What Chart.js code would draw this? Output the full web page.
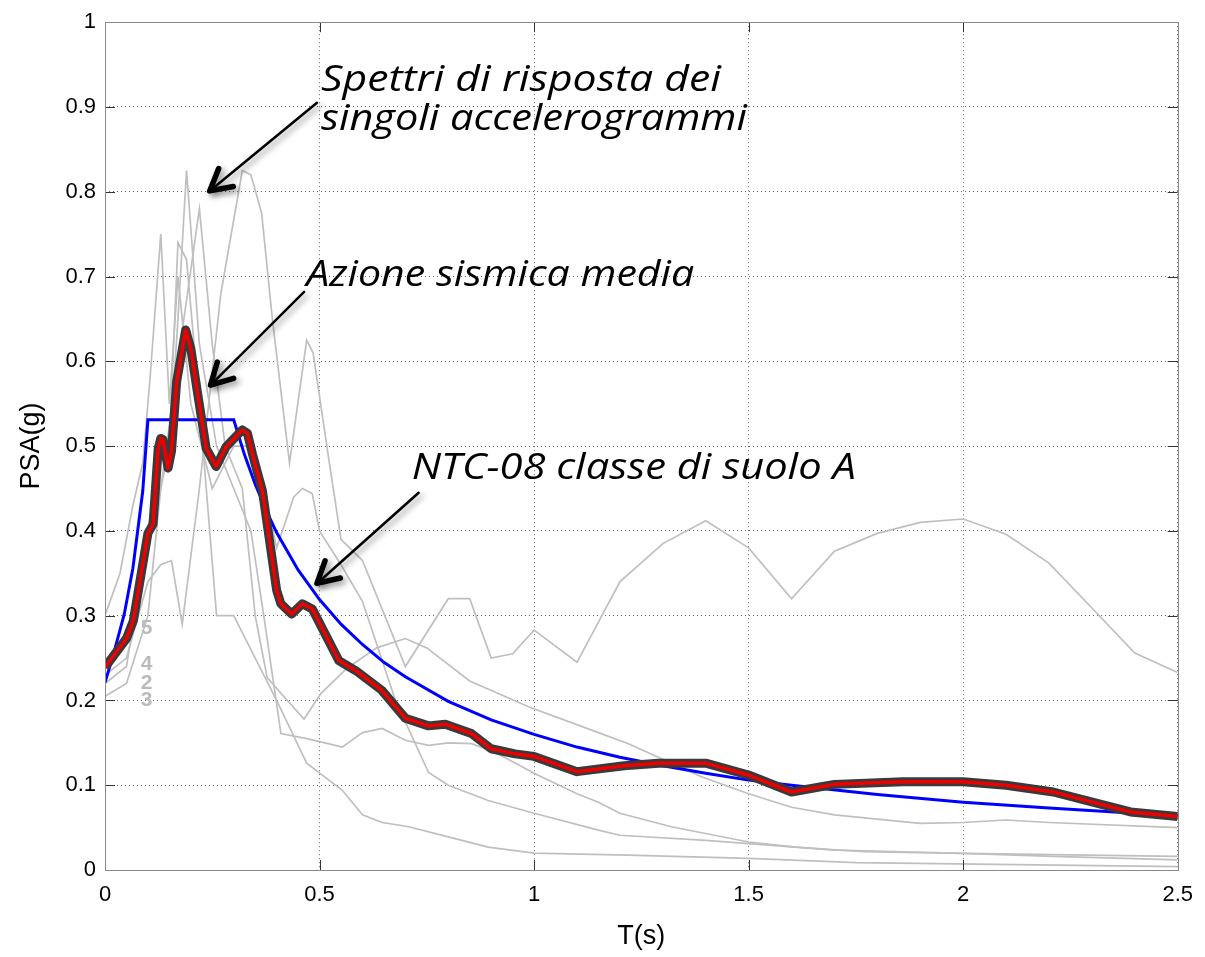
<!DOCTYPE html>
<html>
<head>
<meta charset="utf-8">
<script src="https://cdn.jsdelivr.net/npm/chart.js@4.4.0/dist/chart.umd.min.js"></script>
<style>
  html, body { margin: 0; padding: 0; background: #fff; }
</style>
</head>
<body>
<canvas id="psa" width="1205" height="957"></canvas>
<script>
// axis ticks
var xTicks = [0, 0.5, 1, 1.5, 2, 2.5];
var yTicks = [0, 0.1, 0.2, 0.3, 0.4, 0.5, 0.6, 0.7, 0.8, 0.9, 1];

// NTC-08, suolo A
var ntcT   = [0, 0.02, 0.045, 0.065, 0.088, 0.1, 0.3, 0.325, 0.35, 0.375, 0.4, 0.45, 0.5, 0.55, 0.6, 0.65, 0.7, 0.8, 0.9, 1.0, 1.1, 1.2, 1.3, 1.4, 1.5, 1.6, 1.8, 2.0, 2.2, 2.4, 2.5];
var ntcPSA = [0.221, 0.255, 0.302, 0.356, 0.447, 0.531, 0.531, 0.49, 0.455, 0.425, 0.398, 0.354, 0.319, 0.29, 0.266, 0.245, 0.228, 0.199, 0.177, 0.16, 0.145, 0.133, 0.123, 0.114, 0.106, 0.1, 0.089, 0.08, 0.073, 0.067, 0.064];

// azione sismica media
var meanT   = [0, 0.05, 0.066, 0.1, 0.112, 0.124, 0.13, 0.135, 0.147, 0.155, 0.167, 0.188, 0.2, 0.215, 0.236, 0.259, 0.282, 0.32, 0.332, 0.344, 0.367, 0.4, 0.41, 0.435, 0.46, 0.483, 0.545, 0.585, 0.645, 0.7, 0.754, 0.793, 0.854, 0.9, 0.956, 1.0, 1.1, 1.21, 1.29, 1.4, 1.5, 1.6, 1.7, 1.86, 2.0, 2.1, 2.21, 2.39, 2.5];
var meanPSA = [0.239, 0.273, 0.294, 0.397, 0.408, 0.497, 0.509, 0.508, 0.474, 0.494, 0.576, 0.637, 0.615, 0.565, 0.497, 0.476, 0.499, 0.519, 0.515, 0.49, 0.447, 0.33, 0.314, 0.302, 0.314, 0.308, 0.247, 0.235, 0.212, 0.179, 0.17, 0.172, 0.161, 0.143, 0.137, 0.134, 0.116, 0.123, 0.126, 0.126, 0.112, 0.092, 0.101, 0.104, 0.104, 0.1, 0.092, 0.0685, 0.063];

// spettri dei singoli accelerogrammi
var rec1T   = [0, 0.05, 0.1, 0.13, 0.155, 0.18, 0.22, 0.27, 0.32, 0.34, 0.365, 0.39, 0.43, 0.47, 0.485, 0.52, 0.55, 0.6, 0.7, 0.8, 0.85, 0.9, 0.95, 1.0, 1.1, 1.2, 1.3, 1.4, 1.5, 1.6, 1.7, 1.8, 1.9, 2.0, 2.1, 2.2, 2.3, 2.4, 2.5];
var rec1PSA = [0.23, 0.25, 0.34, 0.36, 0.365, 0.29, 0.45, 0.68, 0.825, 0.82, 0.775, 0.65, 0.48, 0.625, 0.61, 0.49, 0.39, 0.365, 0.24, 0.32, 0.32, 0.25, 0.255, 0.283, 0.245, 0.34, 0.385, 0.412, 0.38, 0.32, 0.376, 0.397, 0.41, 0.414, 0.396, 0.362, 0.309, 0.256, 0.233];

var rec2T   = [0, 0.05, 0.1, 0.13, 0.17, 0.22, 0.25, 0.28, 0.32, 0.35, 0.378, 0.425, 0.464, 0.503, 0.564, 0.633, 0.7, 0.75, 0.85, 0.99, 1.15, 1.22, 1.39, 1.5, 1.6, 1.7, 1.9, 2.0, 2.1, 2.2, 2.5];
var rec2PSA = [0.205, 0.22, 0.3, 0.45, 0.6, 0.78, 0.62, 0.5, 0.45, 0.3, 0.227, 0.2, 0.178, 0.208, 0.238, 0.262, 0.273, 0.262, 0.223, 0.192, 0.162, 0.149, 0.11, 0.09, 0.074, 0.065, 0.055, 0.056, 0.059, 0.056, 0.05];

var rec3T   = [0, 0.05, 0.1, 0.13, 0.15, 0.17, 0.19, 0.22, 0.26, 0.3, 0.34, 0.37, 0.41, 0.47, 0.52, 0.553, 0.6, 0.646, 0.7, 0.754, 0.8, 0.854, 0.909, 1.0, 1.1, 1.15, 1.2, 1.32, 1.5, 1.61, 1.77, 2.0, 2.21, 2.5];
var rec3PSA = [0.22, 0.24, 0.4, 0.5, 0.49, 0.65, 0.825, 0.62, 0.5, 0.45, 0.4, 0.3, 0.161, 0.155, 0.149, 0.145, 0.162, 0.167, 0.153, 0.147, 0.15, 0.149, 0.139, 0.114, 0.09, 0.08, 0.067, 0.051, 0.033, 0.027, 0.0215, 0.0196, 0.016, 0.012];

var rec4T   = [0, 0.035, 0.065, 0.088, 0.105, 0.13, 0.15, 0.17, 0.2, 0.25, 0.3, 0.34, 0.37, 0.4, 0.44, 0.46, 0.483, 0.5, 0.55, 0.6, 0.677, 0.754, 0.8, 0.893, 1.0, 1.15, 1.2, 1.4, 1.5, 1.7, 2.0, 2.5];
var rec4PSA = [0.3, 0.35, 0.43, 0.48, 0.58, 0.75, 0.55, 0.7, 0.55, 0.45, 0.5, 0.5, 0.45, 0.38, 0.44, 0.45, 0.444, 0.4, 0.36, 0.317, 0.2, 0.115, 0.1, 0.082, 0.067, 0.047, 0.041, 0.035, 0.031, 0.0235, 0.0196, 0.016];

var rec5T   = [0, 0.05, 0.1, 0.13, 0.15, 0.17, 0.19, 0.22, 0.26, 0.3, 0.35, 0.4, 0.47, 0.553, 0.6, 0.646, 0.708, 0.8, 0.893, 1.0, 1.218, 1.5, 1.75, 2.5];
var rec5PSA = [0.24, 0.27, 0.4, 0.45, 0.5, 0.74, 0.72, 0.55, 0.3, 0.3, 0.25, 0.2, 0.126, 0.094, 0.065, 0.056, 0.051, 0.039, 0.027, 0.02, 0.0176, 0.0137, 0.0086, 0.004];

var recLabels = ['5', '4', '2', '3'];
var recLabelPSA = [0.285, 0.243, 0.22, 0.2];

function pts(t, a) {
  return t.map(function (v, i) { return { x: v, y: a[i] }; });
}

var grayLine = '#bfbfbf';
function grayDs(t, a) {
  return { data: pts(t, a), borderColor: grayLine, borderWidth: 1.7, pointRadius: 0, tension: 0, order: 3 };
}

// text stretched to the width it has in the picture
function wideText(ctx, s, x, y, w) {
  var m = ctx.measureText(s).width;
  ctx.save();
  ctx.translate(x, y);
  ctx.scale(w / m, 1);
  ctx.fillText(s, 0, 0);
  ctx.restore();
}

var notes = {
  id: 'notes',
  afterDatasetsDraw: function (chart) {
    var ctx = chart.ctx, xs = chart.scales.x, ys = chart.scales.y, a = chart.chartArea;

    // record numbers near T = 0.1
    ctx.save();
    ctx.fillStyle = '#bbbbbb';
    ctx.font = 'bold 21px "Liberation Sans", Arial, sans-serif';
    ctx.textAlign = 'center';
    ctx.textBaseline = 'middle';
    for (var i = 0; i < recLabels.length; i++) {
      ctx.fillText(recLabels[i], xs.getPixelForValue(0.097), ys.getPixelForValue(recLabelPSA[i]));
    }
    ctx.restore();

    // inner ticks and box
    ctx.save();
    ctx.strokeStyle = '#333';
    ctx.lineWidth = 1;
    xTicks.forEach(function (v) {
      var px = Math.round(xs.getPixelForValue(v)) + 0.5;
      ctx.beginPath();
      ctx.moveTo(px, a.bottom); ctx.lineTo(px, a.bottom - 10);
      ctx.moveTo(px, a.top); ctx.lineTo(px, a.top + 10);
      ctx.stroke();
    });
    yTicks.forEach(function (v) {
      var py = Math.round(ys.getPixelForValue(v)) + 0.5;
      ctx.beginPath();
      ctx.moveTo(a.left, py); ctx.lineTo(a.left + 10, py);
      ctx.moveTo(a.right, py); ctx.lineTo(a.right - 10, py);
      ctx.stroke();
    });
    ctx.strokeStyle = '#8a8a8a';
    ctx.strokeRect(Math.round(a.left) + 0.5, Math.round(a.top) + 0.5, Math.round(a.right - a.left), Math.round(a.bottom - a.top));
    ctx.restore();

    function arrow(t0, y0, t1, y1) {
      var x0 = xs.getPixelForValue(t0), p0 = ys.getPixelForValue(y0);
      var x1 = xs.getPixelForValue(t1), p1 = ys.getPixelForValue(y1);
      var ang = Math.atan2(p1 - p0, x1 - x0), h = 24;
      ctx.save();
      ctx.shadowColor = 'rgba(0,0,0,0.45)';
      ctx.shadowBlur = 6;
      ctx.shadowOffsetX = 3;
      ctx.shadowOffsetY = 3;
      ctx.strokeStyle = '#000';
      ctx.lineCap = 'round';
      ctx.lineJoin = 'round';
      ctx.lineWidth = 2.5;
      ctx.beginPath();
      ctx.moveTo(x0, p0); ctx.lineTo(x1, p1);
      ctx.stroke();
      ctx.lineWidth = 5.5;
      ctx.beginPath();
      ctx.moveTo(x1 - h * Math.cos(ang - 0.5), p1 - h * Math.sin(ang - 0.5));
      ctx.lineTo(x1, p1);
      ctx.lineTo(x1 - h * Math.cos(ang + 0.5), p1 - h * Math.sin(ang + 0.5));
      ctx.stroke();
      ctx.restore();
    }
    arrow(0.494, 0.905, 0.244, 0.801);
    arrow(0.464, 0.682, 0.246, 0.572);
    arrow(0.731, 0.445, 0.494, 0.338);

    ctx.save();
    ctx.fillStyle = '#000';
    ctx.font = 'italic 36px "Open Sans", "DejaVu Sans", sans-serif';
    ctx.textAlign = 'left';
    ctx.textBaseline = 'alphabetic';
    wideText(ctx, 'Spettri di risposta dei', xs.getPixelForValue(0.5035), ys.getPixelForValue(0.919), 400);
    wideText(ctx, 'singoli accelerogrammi', xs.getPixelForValue(0.5035), ys.getPixelForValue(0.873), 426);
    wideText(ctx, 'Azione sismica media', xs.getPixelForValue(0.469), ys.getPixelForValue(0.689), 388);
    wideText(ctx, 'NTC-08 classe di suolo A', xs.getPixelForValue(0.715), ys.getPixelForValue(0.461), 444);
    ctx.restore();
  }
};

var tickFont = { family: '"Liberation Sans", Arial, sans-serif', size: 22 };
var titleFont = { family: '"Liberation Sans", Arial, sans-serif', size: 27 };

function fmt(v) { return String(Math.round(v * 10) / 10); }

new Chart(document.getElementById('psa'), {
  type: 'line',
  data: {
    datasets: [
      { data: pts(meanT, meanPSA), borderColor: '#ee0000', borderWidth: 3.5, pointRadius: 0, tension: 0, borderJoinStyle: 'round', order: 0 },
      { data: pts(meanT, meanPSA), borderColor: '#3a3a3a', borderWidth: 9, pointRadius: 0, tension: 0, borderJoinStyle: 'round', order: 1 },
      { data: pts(ntcT, ntcPSA), borderColor: '#0000ff', borderWidth: 3, pointRadius: 0, tension: 0, order: 2 },
      grayDs(rec1T, rec1PSA),
      grayDs(rec2T, rec2PSA),
      grayDs(rec3T, rec3PSA),
      grayDs(rec4T, rec4PSA),
      grayDs(rec5T, rec5PSA)
    ]
  },
  options: {
    responsive: false,
    animation: false,
    layout: { padding: { top: 19, right: 22, left: 0, bottom: 0 } },
    plugins: { legend: { display: false }, tooltip: { enabled: false } },
    scales: {
      x: {
        type: 'linear',
        min: 0,
        max: 2.5,
        afterBuildTicks: function (s) { s.ticks = xTicks.map(function (v) { return { value: v }; }); },
        afterFit: function (s) { s.height = 87; },
        ticks: { font: tickFont, color: '#000', padding: 12, maxRotation: 0, callback: fmt },
        grid: { color: 'rgba(0,0,0,0.6)', drawTicks: false },
        border: { display: false, dash: [1, 3] },
        title: { display: true, text: 'T(s)', font: titleFont, color: '#000', padding: { top: 2, bottom: 4 } }
      },
      y: {
        min: 0,
        max: 1,
        afterBuildTicks: function (s) { s.ticks = yTicks.map(function (v) { return { value: v }; }); },
        afterFit: function (s) { s.width = 105; },
        ticks: { font: tickFont, color: '#000', padding: 9, callback: fmt },
        grid: { color: 'rgba(0,0,0,0.6)', drawTicks: false },
        border: { display: false, dash: [1, 3] },
        title: { display: true, text: 'PSA(g)', font: titleFont, color: '#000', padding: { top: 15, bottom: 4 } }
      }
    }
  },
  plugins: [notes]
});
</script>
</body>
</html>
